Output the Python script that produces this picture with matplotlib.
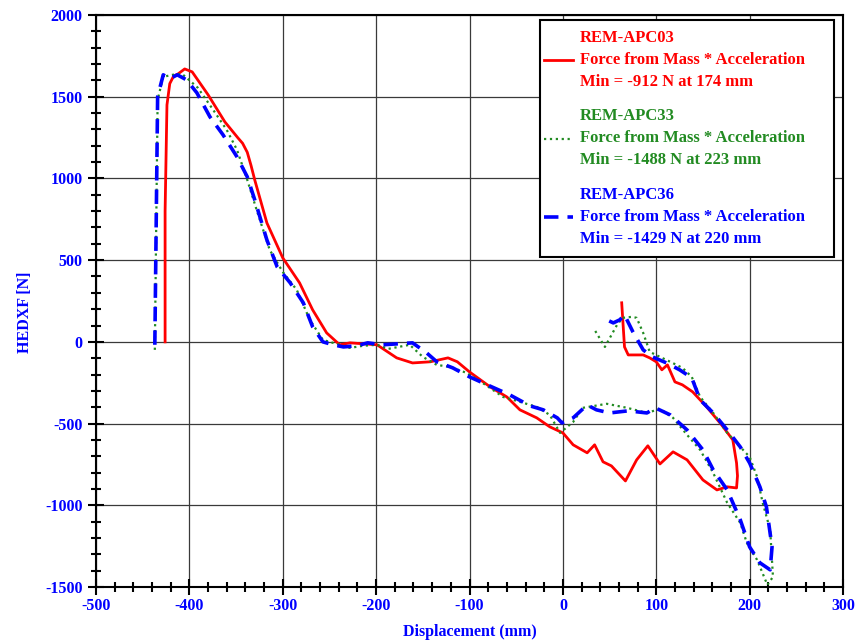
import matplotlib
matplotlib.use("Agg")
import matplotlib.pyplot as plt
from matplotlib.patches import Rectangle
from matplotlib.ticker import MultipleLocator

# REM-APC03 (red, solid)
apc03_x = [-426, -426, -424, -421, -417, -412, -405, -397, -380, -362, -348, -343, -338, -334, -330, -317, -300,
           -282, -268, -253, -239, -228, -199, -178, -161, -142, -123, -113, -100, -78, -60,
           -46, -28, -14, 0, 11, 26, 34, 43, 52, 67, 79, 91, 104, 118, 133, 150, 165, 176,
           186, 187, 186, 182, 170, 154, 139, 128, 120, 112, 106, 100, 93, 86, 70, 66, 63]
apc03_y = [0, 800, 1450, 1580, 1625, 1640, 1670, 1652, 1512, 1346, 1248, 1215, 1160, 1080, 991, 728, 514,
           361, 196, 55, -18, -6, -18, -98, -129, -122, -98, -122, -184, -275, -337,
           -416, -465, -520, -557, -630, -679, -630, -734, -759, -851, -722, -636, -747, -673, -722, -845, -906, -887,
           -894, -820, -741, -600, -508, -398, -306, -263, -245, -141, -171, -122, -98, -80, -80, -31, 239]

# REM-APC33 (green, dotted)
apc33_x = [-437, -434, -428, -418, -408, -403, -391, -376, -360, -349, -338, -328, -314, -300,
           -285, -271, -257, -239, -228, -214, -199, -187, -164, -150, -135, -121, -103, -86,
           -64, -46, -28, -14, -3, 11, 21, 47, 69, 90, 104, 118, 133, 147, 161, 176, 190, 197,
           208, 219, 225, 222, 214, 208, 200, 190, 176, 161, 147, 138, 128, 115, 104, 93, 86,
           79, 74, 64, 58, 45, 34]
apc33_y = [-49, 1481, 1622, 1634, 1640, 1616, 1555, 1432, 1297, 1175, 991, 808, 563, 428,
           318, 135, 12, -18, -37, -24, -18, -43, -18, -92, -141, -153, -190, -251,
           -337, -367, -398, -447, -557, -490, -404, -379, -404, -435, -410, -465, -569, -661, -802, -985, -1108, -1230,
           -1334, -1487, -1438, -1150, -985, -826, -704, -643, -557, -435, -337, -214, -159, -122, -92, -61, 55,
           147, 153, 147, 104, -31, 73]

# REM-APC36 (blue, dashed)
apc36_x = [-437, -434, -428, -421, -413, -403, -392, -378, -364, -349, -338, -330, -317, -306,
           -292, -278, -268, -257, -246, -235, -221, -209, -193, -161, -146, -135, -118, -100,
           -81, -57, -35, -21, -6, -1, 11, 26, 36, 50, 70, 90, 99, 115, 133, 150, 161, 176,
           190, 200, 211, 222, 224, 218, 211, 200, 190, 176, 161, 147, 138, 125, 111, 96, 86,
           75, 66, 61, 54, 47]
apc36_y = [-18, 1500, 1634, 1610, 1634, 1603, 1524, 1377, 1267, 1132, 1010, 869, 624, 459,
           361, 239, 92, 0, -18, -31, -24, -6, -18, -6, -67, -122, -159, -214,
           -263, -324, -392, -416, -465, -496, -465, -386, -416, -435, -422, -435, -404, -447, -539, -661, -783, -906,
           -1089, -1255, -1352, -1395, -1255, -1010, -887, -741, -643, -539, -435, -355, -220, -171, -129, -92, -49,
           61, 165, 135, 116, 135]

labels = [
    "REM-APC03\nForce from Mass * Acceleration\nMin = -912 N at 174 mm",
    "REM-APC33\nForce from Mass * Acceleration\nMin = -1488 N at 223 mm",
    "REM-APC36\nForce from Mass * Acceleration\nMin = -1429 N at 220 mm",
]
colors = ["red", "#228B22", "blue"]

plt.rcParams["font.family"] = "Liberation Serif"
plt.rcParams["font.weight"] = "bold"
plt.rcParams["axes.unicode_minus"] = False

fig = plt.figure(figsize=(8.57, 6.42), dpi=100)
ax = fig.add_axes([96 / 857, 1 - 587 / 642, 747 / 857, 572 / 642])

l1, = ax.plot(apc03_x, apc03_y, "-", color=colors[0], lw=2)
l2, = ax.plot(apc33_x, apc33_y, ":", color=colors[1], lw=1.6)
l3, = ax.plot(apc36_x, apc36_y, color=colors[2], lw=2.6, dashes=(4, 2.5))

ax.set_xlim(-500, 300)
ax.set_ylim(-1500, 2000)
ax.xaxis.set_major_locator(MultipleLocator(100))
ax.xaxis.set_minor_locator(MultipleLocator(20))
ax.yaxis.set_major_locator(MultipleLocator(500))
ax.yaxis.set_minor_locator(MultipleLocator(100))
ax.tick_params(which="major", direction="inout", length=12, width=1.5, colors="black",
               labelcolor="blue", labelsize=11.5)
ax.tick_params(which="minor", direction="inout", length=7, width=1.5, colors="black")
ax.tick_params(axis="x", which="major", pad=2)
for lab in ax.get_xticklabels() + ax.get_yticklabels():
    lab.set_fontweight("bold")
for sp in ax.spines.values():
    sp.set_linewidth(1.5)
ax.grid(which="major", color="#3a3a3a", lw=0.9)
ax.set_axisbelow(True)

ax.set_xlabel("Displacement (mm)", color="blue", fontsize=11.5, fontweight="bold")
ax.xaxis.set_label_coords(0.5, -0.065)
ax.set_ylabel("HEDXF [N]", color="blue", fontsize=11.5, fontweight="bold")
ax.yaxis.set_label_coords(-0.085, 0.48)

# legend without its own frame, box drawn separately
leg = ax.legend([l1, l2, l3], labels, loc="upper left", bbox_to_anchor=(0.5944, 0.9808),
                frameon=False, fontsize=12, handlelength=1.75, handletextpad=0.4,
                labelspacing=1.1, borderpad=0.25, borderaxespad=0)
for t, c in zip(leg.get_texts(), colors):
    t.set_color(c)
    t.set_linespacing(1.5)
ax.add_patch(Rectangle((0.5944, 0.5769), 0.988 - 0.5944, 0.9913 - 0.5769, transform=ax.transAxes,
                       facecolor="white", edgecolor="black", lw=1.5, zorder=4))
leg.set_zorder(5)

fig.savefig("out.png", dpi=100)
